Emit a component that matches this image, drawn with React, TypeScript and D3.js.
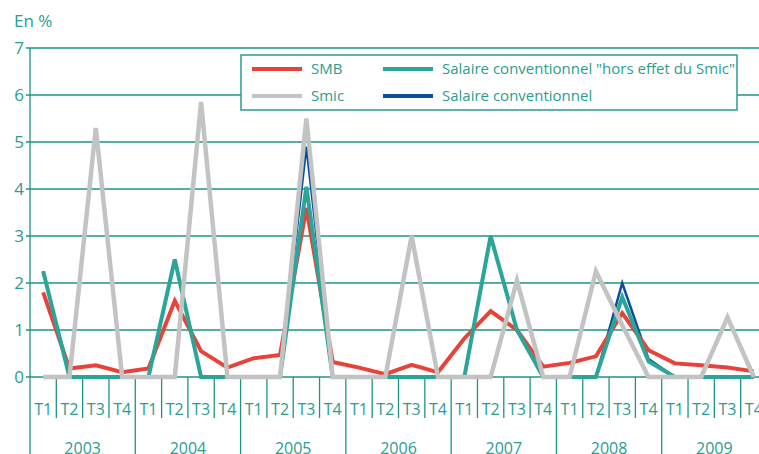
import React from 'react';
import * as d3 from 'd3';

const YEARS = ['2003', '2004', '2005', '2006', '2007', '2008', '2009'];
const QUARTERS = ['T1', 'T2', 'T3', 'T4'];
const Y_TICKS = [0, 1, 2, 3, 4, 5, 6, 7];

const SMB = [1.8, 0.18, 0.25, 0.1, 0.18, 1.62, 0.55, 0.2, 0.4, 0.47, 3.6, 0.32, 0.2, 0.06, 0.26, 0.1, 0.82, 1.4, 1.0, 0.22, 0.3, 0.44, 1.36, 0.57, 0.29, 0.25, 0.2, 0.12];
const SMIC = [0, 0, 5.3, 0, 0, 0, 5.85, 0, 0, 0, 5.5, 0, 0, 0, 3.0, 0, 0, 0, 2.05, 0, 0, 2.25, 1.1, 0, 0, 0, 1.27, 0];
const HORS_SMIC = [2.25, 0, 0, 0, 0, 2.5, 0, 0, 0, 0, 4.05, 0, 0, 0, 0, 0, 0, 3.0, 1.0, 0, 0, 0, 1.7, 0.33, 0, 0, 0, 0];
const CONV = [2.25, 0, 0, 0, 0, 2.5, 0, 0, 0, 0, 4.9, 0, 0, 0, 0, 0, 0, 3.0, 1.0, 0, 0, 0, 2.0, 0.38, 0, 0, 0, 0];

const TEAL = '#2a9d8f';
const GRID = '#1f9484';
const FONT = '"Open Sans", "Noto Sans", sans-serif';

const W = 759;
const H = 454;

const App: React.FC = () => {
  const periods = YEARS.flatMap(y => QUARTERS.map(q => `${y}-${q}`));
  const x = d3.scaleBand<string>().domain(periods).range([30, 767]);
  const y = d3.scaleLinear().domain([0, 7]).range([377, 48]);
  const cx = (i: number) => (x(periods[i]) as number) + x.bandwidth() / 2;
  const line = d3.line<number>().x((_, i) => cx(i)).y(d => y(d));

  // drawing order: blue under teal, gray on top
  const series = [
    { name: 'Salaire conventionnel', data: CONV, color: '#0b4f9c', w: 2.5 },
    { name: 'SMB', data: SMB, color: '#e8433a', w: 4 },
    { name: 'Salaire conventionnel "hors effet du Smic"', data: HORS_SMIC, color: '#2aa597', w: 4 },
    { name: 'Smic', data: SMIC, color: '#c3c3c3', w: 4.5 },
  ];

  const legend = [
    { name: 'SMB', color: '#e8433a', col: 0, row: 0 },
    { name: 'Smic', color: '#c3c3c3', col: 0, row: 1 },
    { name: 'Salaire conventionnel "hors effet du Smic"', color: '#2aa597', col: 1, row: 0 },
    { name: 'Salaire conventionnel', color: '#0b4f9c', col: 1, row: 1 },
  ];

  return (
    <svg width={W} height={H} style={{ position: 'absolute', left: 0, top: 0, background: '#fff' }} fontFamily={FONT}>
      <text x={14} y={27} fontSize={17} fill={TEAL}>En %</text>

      {/* grid + y ticks */}
      {Y_TICKS.map(t => (
        <g key={t}>
          <line x1={26} x2={W} y1={y(t)} y2={y(t)} stroke={GRID} strokeWidth={1.3} />
          <text x={24} y={y(t) + 6} fontSize={17} fill={TEAL} textAnchor="end">{t}</text>
        </g>
      ))}
      <line x1={30} x2={30} y1={y(7)} y2={H} stroke={GRID} strokeWidth={1.3} />

      {/* quarter ticks and labels */}
      {periods.map((p, i) => (
        <g key={p}>
          {i > 0 && (
            <line x1={x(p) as number} x2={x(p) as number} y1={y(0)} y2={i % 4 === 0 ? H : 418}
              stroke={GRID} strokeWidth={1.3} />
          )}
          <text x={cx(i)} y={415} fontSize={16} fill={TEAL} textAnchor="middle">{QUARTERS[i % 4]}</text>
        </g>
      ))}
      {YEARS.map(yr => {
        const x0 = x(`${yr}-T1`) as number;
        return (
          <text key={yr} x={x0 + x.bandwidth() * 2} y={454} fontSize={16} fill={TEAL} textAnchor="middle">{yr}</text>
        );
      })}

      {/* lines */}
      {series.map(s => (
        <path key={s.name} d={line(s.data) || ''} fill="none" stroke={s.color} strokeWidth={s.w} strokeLinejoin="miter" />
      ))}

      {/* legend */}
      <rect x={241} y={55} width={496} height={55} fill="#fff" stroke={TEAL} strokeWidth={1.5} />
      {legend.map(l => {
        const lx = l.col === 0 ? 252 : 383;
        const ly = l.row === 0 ? 69 : 96;
        return (
          <g key={l.name}>
            <line x1={lx} x2={lx + 50} y1={ly} y2={ly} stroke={l.color} strokeWidth={4} />
            <text x={lx + 59} y={ly + 5} fontSize={15} fill={TEAL}>{l.name}</text>
          </g>
        );
      })}
    </svg>
  );
};

export default App;
